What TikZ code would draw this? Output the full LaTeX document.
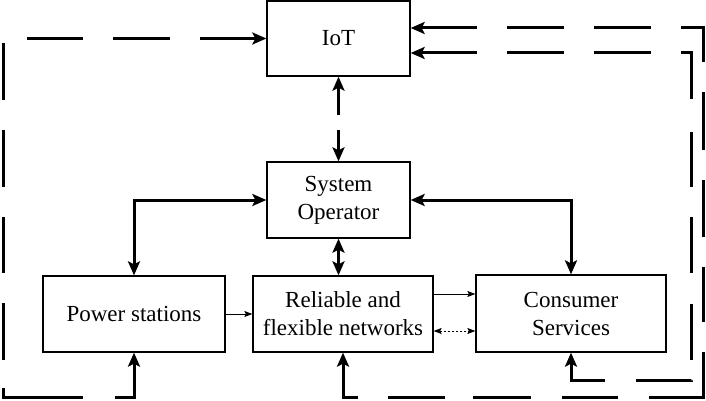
\documentclass[tikz,border=0pt]{standalone}
\usepackage{fontspec}
\setmainfont{Liberation Serif}
\usetikzlibrary{arrows.meta}
\begin{document}
\begin{tikzpicture}[x=1pt,y=-1pt,
  box/.style={draw, line width=1.3pt, align=center, inner sep=0pt,
    font=\fontsize{23}{28}\selectfont},
  bigtip/.tip={Stealth[length=14pt,width=12pt,inset=3pt]},
  smalltip/.tip={Stealth[length=8pt,width=6pt,inset=1.5pt]},
  heavyarrow/.style={line width=3pt, bigtip-bigtip},
  thinarrow/.style={line width=1pt, -smalltip},
  dottedarrow/.style={line width=1pt, smalltip-smalltip, dash pattern=on 2pt off 2pt},
  loopline/.style={line width=3pt, bigtip-bigtip}]
\useasboundingbox (0,0) rectangle (706,401);

% boxes
\node[box, minimum width=143pt, minimum height=75pt] (iot) at (338.5,38.5) {IoT};
\node[box, minimum width=143pt, minimum height=76pt] (so) at (338.5,200) {System\\Operator};
\node[box, minimum width=182pt, minimum height=76pt] (ps) at (134,314) {Power stations};
\node[box, minimum width=180pt, minimum height=76pt] (rn) at (343,314) {Reliable and\\flexible networks};
\node[box, minimum width=190pt, minimum height=77pt] (cs) at (571,313.5) {Consumer\\Services};

% corner coordinates of the dashed loops
\coordinate (a1) at (3,38.5);
\coordinate (a2) at (3,397);
\coordinate (a3) at (134,397);
\coordinate (b1) at (703,28);
\coordinate (b2) at (703,397);
\coordinate (b3) at (343,397);
\coordinate (c1) at (691,53);
\coordinate (c2) at (691,380);
\coordinate (c3) at (571,380);

% heavy solid connectors from the system operator
\draw[heavyarrow] (so.west) -| (ps.north);
\draw[heavyarrow] (so.east) -| (cs.north);
\draw[heavyarrow] (so.south) -- (so.south |- rn.north);
\draw[heavyarrow, dash pattern=on 28pt off 15pt on 100pt off 15pt] (iot.south) -- (so.north);

% thin connectors
\draw[thinarrow] (ps.east) -- (rn.west);
\draw[thinarrow] ([yshift=20pt]rn.east) -- ([yshift=20pt]rn.east -| cs.west);
\draw[dottedarrow] ([yshift=-17pt]rn.east) -- ([yshift=-17pt]rn.east -| cs.west);

% dashed loops
\draw[loopline, dash pattern=on 56pt off 30pt on 57pt off 30pt on 56pt off 29pt on 57pt off 30pt on 57pt off 30pt on 56pt off 30pt on 57pt off 28pt on 89pt off 32pt on 80pt off 30pt]
  (iot.west) -- (a1) -- (a2) -- (a3) -- (ps.south);
\draw[loopline, dash pattern=on 56pt off 30pt on 57pt off 30pt on 57pt off 30pt on 56pt off 30pt on 58pt off 30pt on 57pt off 30pt on 55pt off 30pt on 99pt off 31pt on 56pt off 31pt on 58pt off 28pt on 57pt off 30pt on 80pt off 30pt]
  (iot.east |- b1) -- (b1) -- (b2) -- (b3) -- (rn.south);
\draw[loopline, dash pattern=on 56pt off 30pt on 57pt off 30pt on 57pt off 30pt on 56pt off 33pt on 55pt off 30pt on 56pt off 31pt on 56pt off 20pt on 55pt off 31pt on 80pt off 30pt]
  (iot.east |- c1) -- (c1) -- (c2) -- (c3) -- (cs.south);
\end{tikzpicture}
\end{document}
